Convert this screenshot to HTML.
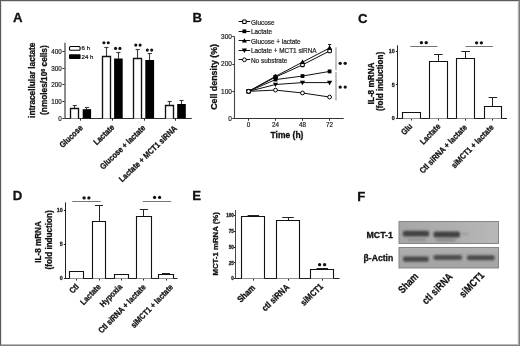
<!DOCTYPE html>
<html><head><meta charset="utf-8"><style>
html,body{margin:0;padding:0;background:#fff;}
svg{display:block;will-change:transform;opacity:0.999;}
svg text{font-family:"Liberation Sans", sans-serif;}
</style></head><body>
<svg width="520" height="346" viewBox="0 0 520 346">
<rect x="0" y="0" width="520" height="346" fill="#fff"/>
<text x="13.0" y="22.3" font-size="13.2" font-weight="bold" text-anchor="start" fill="#111" stroke="#111" stroke-width="0.3">A</text>
<text x="192.5" y="22.4" font-size="13.2" font-weight="bold" text-anchor="start" fill="#111" stroke="#111" stroke-width="0.3">B</text>
<text x="358.0" y="22.9" font-size="13.2" font-weight="bold" text-anchor="start" fill="#111" stroke="#111" stroke-width="0.3">C</text>
<text x="12.8" y="199.8" font-size="13.2" font-weight="bold" text-anchor="start" fill="#111" stroke="#111" stroke-width="0.3">D</text>
<text x="192.2" y="200.4" font-size="13.2" font-weight="bold" text-anchor="start" fill="#111" stroke="#111" stroke-width="0.3">E</text>
<text x="357.2" y="200.5" font-size="13.2" font-weight="bold" text-anchor="start" fill="#111" stroke="#111" stroke-width="0.3">F</text>
<line x1="65.0" y1="42.7" x2="65.0" y2="118.4" stroke="#666" stroke-width="1.5"/>
<line x1="64.6" y1="118.5" x2="191.8" y2="118.5" stroke="#333" stroke-width="1"/>
<line x1="62.39999999999999" y1="118.5" x2="64.6" y2="118.5" stroke="#333" stroke-width="1"/>
<text x="61.8" y="120.7" font-size="6.3" font-weight="normal" text-anchor="end" fill="#222" stroke="#222" stroke-width="0.2">0</text>
<line x1="62.39999999999999" y1="101.5" x2="64.6" y2="101.5" stroke="#333" stroke-width="1"/>
<text x="61.8" y="103.98" font-size="6.3" font-weight="normal" text-anchor="end" fill="#222" stroke="#222" stroke-width="0.2">100</text>
<line x1="62.39999999999999" y1="84.5" x2="64.6" y2="84.5" stroke="#333" stroke-width="1"/>
<text x="61.8" y="87.26" font-size="6.3" font-weight="normal" text-anchor="end" fill="#222" stroke="#222" stroke-width="0.2">200</text>
<line x1="62.39999999999999" y1="68.5" x2="64.6" y2="68.5" stroke="#333" stroke-width="1"/>
<text x="61.8" y="70.54" font-size="6.3" font-weight="normal" text-anchor="end" fill="#222" stroke="#222" stroke-width="0.2">300</text>
<line x1="62.39999999999999" y1="51.5" x2="64.6" y2="51.5" stroke="#333" stroke-width="1"/>
<text x="61.8" y="53.82000000000001" font-size="6.3" font-weight="normal" text-anchor="end" fill="#222" stroke="#222" stroke-width="0.2">400</text>
<line x1="80.5" y1="118.4" x2="80.5" y2="120.7" stroke="#333" stroke-width="1"/>
<line x1="112.5" y1="118.4" x2="112.5" y2="120.7" stroke="#333" stroke-width="1"/>
<line x1="144.5" y1="118.4" x2="144.5" y2="120.7" stroke="#333" stroke-width="1"/>
<line x1="175.5" y1="118.4" x2="175.5" y2="120.7" stroke="#333" stroke-width="1"/>
<line x1="74.5" y1="108.3" x2="74.5" y2="105.5" stroke="#3a3a3a" stroke-width="1.1"/>
<line x1="72.70000000000002" y1="105.5" x2="76.9" y2="105.5" stroke="#3a3a3a" stroke-width="1.1"/>
<path d="M70.5 118.5 V108.5 H78.5 V118.5" fill="#fff" stroke="#111" stroke-width="1.35"/>
<line x1="86.5" y1="109.2" x2="86.5" y2="107.6" stroke="#3a3a3a" stroke-width="1.1"/>
<line x1="84.80000000000001" y1="107.5" x2="89.0" y2="107.5" stroke="#3a3a3a" stroke-width="1.1"/>
<rect x="82.7" y="109.2" width="8.399999999999991" height="9.200000000000003" fill="#000" stroke="none" stroke-width="1"/>
<line x1="106.5" y1="56.4" x2="106.5" y2="47.3" stroke="#3a3a3a" stroke-width="1.1"/>
<line x1="104.30000000000001" y1="47.5" x2="108.5" y2="47.5" stroke="#3a3a3a" stroke-width="1.1"/>
<path d="M102.5 118.5 V56.5 H110.5 V118.5" fill="#fff" stroke="#111" stroke-width="1.35"/>
<line x1="118.5" y1="58.5" x2="118.5" y2="52.0" stroke="#3a3a3a" stroke-width="1.1"/>
<line x1="116.30000000000001" y1="52.5" x2="120.5" y2="52.5" stroke="#3a3a3a" stroke-width="1.1"/>
<rect x="114.1" y="58.5" width="8.600000000000009" height="59.900000000000006" fill="#000" stroke="none" stroke-width="1"/>
<line x1="137.5" y1="58.1" x2="137.5" y2="49.0" stroke="#3a3a3a" stroke-width="1.1"/>
<line x1="135.6" y1="49.5" x2="139.79999999999998" y2="49.5" stroke="#3a3a3a" stroke-width="1.1"/>
<path d="M133.5 118.5 V58.5 H141.5 V118.5" fill="#fff" stroke="#111" stroke-width="1.35"/>
<line x1="149.5" y1="60.0" x2="149.5" y2="53.8" stroke="#3a3a3a" stroke-width="1.1"/>
<line x1="147.6" y1="53.5" x2="151.79999999999998" y2="53.5" stroke="#3a3a3a" stroke-width="1.1"/>
<rect x="145.3" y="60.0" width="8.799999999999983" height="58.400000000000006" fill="#000" stroke="none" stroke-width="1"/>
<line x1="169.5" y1="105.3" x2="169.5" y2="101.7" stroke="#3a3a3a" stroke-width="1.1"/>
<line x1="167.55" y1="101.5" x2="171.75" y2="101.5" stroke="#3a3a3a" stroke-width="1.1"/>
<path d="M165.5 118.5 V105.5 H173.5 V118.5" fill="#fff" stroke="#111" stroke-width="1.35"/>
<line x1="181.5" y1="104.0" x2="181.5" y2="100.5" stroke="#3a3a3a" stroke-width="1.1"/>
<line x1="179.4" y1="100.5" x2="183.6" y2="100.5" stroke="#3a3a3a" stroke-width="1.1"/>
<rect x="177.2" y="104.0" width="8.600000000000023" height="14.400000000000006" fill="#000" stroke="none" stroke-width="1"/>
<circle cx="103.92" cy="42.80" r="1.55" fill="#111"/>
<circle cx="108.27" cy="42.80" r="1.55" fill="#111"/>
<circle cx="115.58" cy="48.40" r="1.55" fill="#111"/>
<circle cx="119.92" cy="48.40" r="1.55" fill="#111"/>
<circle cx="135.77" cy="45.10" r="1.55" fill="#111"/>
<circle cx="140.12" cy="45.10" r="1.55" fill="#111"/>
<circle cx="147.32" cy="50.10" r="1.55" fill="#111"/>
<circle cx="151.68" cy="50.10" r="1.55" fill="#111"/>
<rect x="69.5" y="46.5" width="10.6" height="3.8" rx="1" fill="#fff" stroke="#000" stroke-width="1.1"/>
<rect x="69" y="54.3" width="11.6" height="4.8" rx="0.8" fill="#000"/>
<text x="81.6" y="50.3" font-size="6.1" font-weight="normal" text-anchor="start" fill="#111" stroke="#111" stroke-width="0.2">6 h</text>
<text x="81.6" y="58.9" font-size="6.1" font-weight="normal" text-anchor="start" fill="#111" stroke="#111" stroke-width="0.2">24 h</text>
<text x="34.7" y="80.25" font-size="8.27" font-weight="bold" text-anchor="middle" fill="#111" stroke="#111" stroke-width="0.3" transform="rotate(-90 34.7 80.25)">intracellular lactate</text>
<text x="47.3" y="80.1" font-size="8.27" font-weight="bold" text-anchor="middle" fill="#111" stroke="#111" stroke-width="0.3" transform="rotate(-90 47.3 80.1)">(nmoles/10<tspan font-size="5.3" dy="-2.7">6</tspan><tspan dy="2.7"> cells)</tspan></text>
<text x="0" y="0" font-size="8.4" font-weight="bold" text-anchor="end" fill="#111" stroke="#111" stroke-width="0.3" transform="translate(83.3 128.5) rotate(-44) scale(0.86 1)">Glucose</text>
<text x="0" y="0" font-size="8.4" font-weight="bold" text-anchor="end" fill="#111" stroke="#111" stroke-width="0.3" transform="translate(114.9 128.0) rotate(-44) scale(0.86 1)">Lactate</text>
<text x="0" y="0" font-size="8.4" font-weight="bold" text-anchor="end" fill="#111" stroke="#111" stroke-width="0.3" transform="translate(146.0 128.5) rotate(-44) scale(0.86 1)">Glucose + lactate</text>
<text x="0" y="0" font-size="8.4" font-weight="bold" text-anchor="end" fill="#111" stroke="#111" stroke-width="0.3" transform="translate(177.6 129.1) rotate(-44) scale(0.86 1)">Lactate + MCT1 siRNA</text>
<line x1="234.5" y1="36.7" x2="234.5" y2="118.6" stroke="#444" stroke-width="1.1"/>
<line x1="234.7" y1="118.5" x2="343.7" y2="118.5" stroke="#333" stroke-width="1"/>
<line x1="232.29999999999998" y1="118.5" x2="234.7" y2="118.5" stroke="#333" stroke-width="1"/>
<text x="231.9" y="121.0" font-size="6.5" font-weight="normal" text-anchor="end" fill="#222" stroke="#222" stroke-width="0.2">0</text>
<line x1="232.29999999999998" y1="91.5" x2="234.7" y2="91.5" stroke="#333" stroke-width="1"/>
<text x="231.9" y="93.73" font-size="6.5" font-weight="normal" text-anchor="end" fill="#222" stroke="#222" stroke-width="0.2">100</text>
<line x1="232.29999999999998" y1="64.5" x2="234.7" y2="64.5" stroke="#333" stroke-width="1"/>
<text x="231.9" y="66.46000000000001" font-size="6.5" font-weight="normal" text-anchor="end" fill="#222" stroke="#222" stroke-width="0.2">200</text>
<line x1="232.29999999999998" y1="36.5" x2="234.7" y2="36.5" stroke="#333" stroke-width="1"/>
<text x="231.9" y="39.18999999999999" font-size="6.5" font-weight="normal" text-anchor="end" fill="#222" stroke="#222" stroke-width="0.2">300</text>
<line x1="248.5" y1="118.6" x2="248.5" y2="120.8" stroke="#333" stroke-width="1"/>
<text x="248.6" y="126.8" font-size="6.3" font-weight="normal" text-anchor="middle" fill="#222" stroke="#222" stroke-width="0.2">0</text>
<line x1="275.5" y1="118.6" x2="275.5" y2="120.8" stroke="#333" stroke-width="1"/>
<text x="275.5" y="126.8" font-size="6.3" font-weight="normal" text-anchor="middle" fill="#222" stroke="#222" stroke-width="0.2">24</text>
<line x1="302.5" y1="118.6" x2="302.5" y2="120.8" stroke="#333" stroke-width="1"/>
<text x="302.5" y="126.8" font-size="6.3" font-weight="normal" text-anchor="middle" fill="#222" stroke="#222" stroke-width="0.2">48</text>
<line x1="329.5" y1="118.6" x2="329.5" y2="120.8" stroke="#333" stroke-width="1"/>
<text x="329.6" y="126.8" font-size="6.3" font-weight="normal" text-anchor="middle" fill="#222" stroke="#222" stroke-width="0.2">72</text>
<text x="287.0" y="138.4" font-size="8.5" font-weight="bold" text-anchor="middle" fill="#111" stroke="#111" stroke-width="0.3">Time (h)</text>
<text x="216.6" y="76.9" font-size="8.85" font-weight="bold" text-anchor="middle" fill="#111" stroke="#111" stroke-width="0.3" transform="rotate(-90 216.6 76.9)">Cell density (%)</text>
<polyline points="248.6,91.33 275.5,77.15 302.5,64.88 329.6,50.97" fill="none" stroke="#111" stroke-width="1"/>
<polyline points="248.6,91.33 275.5,79.60 302.5,76.06 329.6,71.42" fill="none" stroke="#111" stroke-width="1"/>
<polyline points="248.6,91.33 275.5,76.33 302.5,62.15 329.6,47.97" fill="none" stroke="#111" stroke-width="1"/>
<polyline points="248.6,91.33 275.5,84.51 302.5,82.60 329.6,82.60" fill="none" stroke="#111" stroke-width="1"/>
<polyline points="248.6,91.33 275.5,90.10 302.5,92.97 329.6,97.06" fill="none" stroke="#111" stroke-width="1"/>
<line x1="329.5" y1="47.970699999999994" x2="329.5" y2="44.5" stroke="#222" stroke-width="1"/>
<line x1="328.0" y1="44.5" x2="331.20000000000005" y2="44.5" stroke="#222" stroke-width="1"/>
<rect x="246.85" y="89.58" width="3.5" height="3.5" rx="0.6" fill="#fff" stroke="#000" stroke-width="1.05"/>
<rect x="273.75" y="75.39959999999999" width="3.5" height="3.5" rx="0.6" fill="#fff" stroke="#000" stroke-width="1.05"/>
<rect x="300.75" y="63.12809999999999" width="3.5" height="3.5" rx="0.6" fill="#fff" stroke="#000" stroke-width="1.05"/>
<rect x="327.85" y="49.2204" width="3.5" height="3.5" rx="0.6" fill="#fff" stroke="#000" stroke-width="1.05"/>
<rect x="246.7" y="89.42999999999999" width="3.8" height="3.8" fill="#000"/>
<rect x="273.6" y="77.70389999999999" width="3.8" height="3.8" fill="#000"/>
<rect x="300.6" y="74.15879999999999" width="3.8" height="3.8" fill="#000"/>
<rect x="327.70000000000005" y="69.52289999999999" width="3.8" height="3.8" fill="#000"/>
<path d="M248.6 88.73 L251.2 93.13 L246.0 93.13Z" fill="#000"/>
<path d="M275.5 73.7315 L278.1 78.13149999999999 L272.9 78.13149999999999Z" fill="#000"/>
<path d="M302.5 59.55109999999999 L305.1 63.95109999999999 L299.9 63.95109999999999Z" fill="#000"/>
<path d="M329.6 45.37069999999999 L332.20000000000005 49.77069999999999 L327.0 49.77069999999999Z" fill="#000"/>
<path d="M248.6 93.92999999999999 L251.2 89.53 L246.0 89.53Z" fill="#000"/>
<path d="M275.5 87.11249999999998 L278.1 82.71249999999999 L272.9 82.71249999999999Z" fill="#000"/>
<path d="M302.5 85.2036 L305.1 80.8036 L299.9 80.8036Z" fill="#000"/>
<path d="M329.6 85.2036 L332.20000000000005 80.8036 L327.0 80.8036Z" fill="#000"/>
<circle cx="248.6" cy="91.33" r="1.9" fill="#fff" stroke="#000" stroke-width="1"/>
<circle cx="275.5" cy="90.10284999999999" r="1.9" fill="#fff" stroke="#000" stroke-width="1"/>
<circle cx="302.5" cy="92.96619999999999" r="1.9" fill="#fff" stroke="#000" stroke-width="1"/>
<circle cx="329.6" cy="97.05669999999999" r="1.9" fill="#fff" stroke="#000" stroke-width="1"/>
<line x1="238.6" y1="21.5" x2="250.2" y2="21.5" stroke="#111" stroke-width="1"/>
<rect x="242.65" y="20.05" width="3.5" height="3.5" rx="0.6" fill="#fff" stroke="#000" stroke-width="1.05"/>
<text x="251.0" y="24.6" font-size="6.4" font-weight="normal" text-anchor="start" fill="#222" stroke="#222" stroke-width="0.2">Glucose</text>
<line x1="238.6" y1="31.5" x2="250.2" y2="31.5" stroke="#111" stroke-width="1"/>
<rect x="242.5" y="29.400000000000002" width="3.8" height="3.8" fill="#000"/>
<text x="251.0" y="34.1" font-size="6.4" font-weight="normal" text-anchor="start" fill="#222" stroke="#222" stroke-width="0.2">Lactate</text>
<line x1="238.6" y1="40.5" x2="250.2" y2="40.5" stroke="#111" stroke-width="1"/>
<path d="M244.4 38.199999999999996 L247.0 42.599999999999994 L241.8 42.599999999999994Z" fill="#000"/>
<text x="251.0" y="43.599999999999994" font-size="6.4" font-weight="normal" text-anchor="start" fill="#222" stroke="#222" stroke-width="0.2">Glucose + lactate</text>
<line x1="238.6" y1="50.5" x2="250.2" y2="50.5" stroke="#111" stroke-width="1"/>
<path d="M244.4 52.9 L247.0 48.5 L241.8 48.5Z" fill="#000"/>
<text x="251.0" y="53.099999999999994" font-size="6.4" font-weight="normal" text-anchor="start" fill="#222" stroke="#222" stroke-width="0.2">Lactate + MCT1 siRNA</text>
<line x1="238.6" y1="59.5" x2="250.2" y2="59.5" stroke="#111" stroke-width="1"/>
<circle cx="244.4" cy="59.8" r="1.9" fill="#fff" stroke="#000" stroke-width="1"/>
<text x="251.0" y="62.599999999999994" font-size="6.4" font-weight="normal" text-anchor="start" fill="#222" stroke="#222" stroke-width="0.2">No substrate</text>
<line x1="336.0" y1="47.2" x2="336.0" y2="70.2" stroke="#9a9a9a" stroke-width="1.2"/>
<line x1="336.0" y1="71.9" x2="336.0" y2="100.4" stroke="#9a9a9a" stroke-width="1.2"/>
<circle cx="340.20" cy="63.30" r="1.65" fill="#111"/>
<circle cx="345.20" cy="63.30" r="1.65" fill="#111"/>
<circle cx="340.20" cy="87.10" r="1.65" fill="#111"/>
<circle cx="345.20" cy="87.10" r="1.65" fill="#111"/>
<line x1="397.5" y1="45.3" x2="397.5" y2="118.5" stroke="#222" stroke-width="1"/>
<line x1="397.5" y1="118.5" x2="507" y2="118.5" stroke="#222" stroke-width="1"/>
<line x1="395.9" y1="118.5" x2="397.5" y2="118.5" stroke="#222" stroke-width="1"/>
<text x="394.7" y="120.4" font-size="5.3" font-weight="bold" text-anchor="end" fill="#222" stroke="#222" stroke-width="0.3">0</text>
<line x1="395.9" y1="84.5" x2="397.5" y2="84.5" stroke="#222" stroke-width="1"/>
<text x="394.7" y="86.80000000000001" font-size="5.3" font-weight="bold" text-anchor="end" fill="#222" stroke="#222" stroke-width="0.3">5</text>
<line x1="395.9" y1="51.5" x2="397.5" y2="51.5" stroke="#222" stroke-width="1"/>
<text x="394.7" y="53.199999999999996" font-size="5.3" font-weight="bold" text-anchor="end" fill="#222" stroke="#222" stroke-width="0.3">10</text>
<line x1="411.5" y1="118.5" x2="411.5" y2="120.5" stroke="#222" stroke-width="1"/>
<line x1="438.5" y1="118.5" x2="438.5" y2="120.5" stroke="#222" stroke-width="1"/>
<line x1="465.5" y1="118.5" x2="465.5" y2="120.5" stroke="#222" stroke-width="1"/>
<line x1="492.5" y1="118.5" x2="492.5" y2="120.5" stroke="#222" stroke-width="1"/>
<path d="M402.5 118.5 V112.5 H420.5 V118.5" fill="#fff" stroke="#111" stroke-width="1.1"/>
<line x1="438.5" y1="61.0" x2="438.5" y2="54.4" stroke="#222" stroke-width="1"/>
<line x1="434.09999999999997" y1="54.5" x2="442.7" y2="54.5" stroke="#222" stroke-width="1"/>
<path d="M429.5 118.5 V61.5 H447.5 V118.5" fill="#fff" stroke="#111" stroke-width="1.1"/>
<line x1="465.5" y1="58.4" x2="465.5" y2="51.8" stroke="#222" stroke-width="1"/>
<line x1="461.3" y1="51.5" x2="469.90000000000003" y2="51.5" stroke="#222" stroke-width="1"/>
<path d="M456.5 118.5 V58.5 H474.5 V118.5" fill="#fff" stroke="#111" stroke-width="1.1"/>
<line x1="492.5" y1="106.5" x2="492.5" y2="97.4" stroke="#222" stroke-width="1"/>
<line x1="488.59999999999997" y1="97.5" x2="497.2" y2="97.5" stroke="#222" stroke-width="1"/>
<path d="M484.5 118.5 V106.5 H501.5 V118.5" fill="#fff" stroke="#111" stroke-width="1.1"/>
<line x1="410.3" y1="46.5" x2="437.5" y2="46.5" stroke="#777" stroke-width="1"/>
<line x1="465.6" y1="46.5" x2="492.9" y2="46.5" stroke="#777" stroke-width="1"/>
<circle cx="421.40" cy="42.70" r="1.65" fill="#111"/>
<circle cx="426.20" cy="42.70" r="1.65" fill="#111"/>
<circle cx="476.60" cy="42.80" r="1.65" fill="#111"/>
<circle cx="481.40" cy="42.80" r="1.65" fill="#111"/>
<text x="373.6" y="83.45" font-size="8.2" font-weight="bold" text-anchor="middle" fill="#111" stroke="#111" stroke-width="0.3" transform="rotate(-90 373.6 83.45)">IL-8 mRNA</text>
<text x="382.6" y="81.4" font-size="8.15" font-weight="bold" text-anchor="middle" fill="#111" stroke="#111" stroke-width="0.3" transform="rotate(-90 382.6 81.4)">(fold induction)</text>
<text x="0" y="0" font-size="8.4" font-weight="bold" text-anchor="end" fill="#111" stroke="#111" stroke-width="0.3" transform="translate(412.9 126.9) rotate(-46) scale(0.86 1)">Glu</text>
<text x="0" y="0" font-size="8.4" font-weight="bold" text-anchor="end" fill="#111" stroke="#111" stroke-width="0.3" transform="translate(441.0 126.9) rotate(-46) scale(0.86 1)">Lactate</text>
<text x="0" y="0" font-size="8.4" font-weight="bold" text-anchor="end" fill="#111" stroke="#111" stroke-width="0.3" transform="translate(467.5 127.9) rotate(-46) scale(0.86 1)">Ctl siRNA + lactate</text>
<text x="0" y="0" font-size="8.4" font-weight="bold" text-anchor="end" fill="#111" stroke="#111" stroke-width="0.3" transform="translate(494.2 127.9) rotate(-46) scale(0.86 1)">siMCT1 + lactate</text>
<line x1="65.5" y1="202.4" x2="65.5" y2="278.5" stroke="#222" stroke-width="1"/>
<line x1="65.5" y1="278.5" x2="177.4" y2="278.5" stroke="#222" stroke-width="1"/>
<line x1="63.9" y1="278.5" x2="65.5" y2="278.5" stroke="#222" stroke-width="1"/>
<text x="62.6" y="280.4" font-size="5.3" font-weight="bold" text-anchor="end" fill="#222" stroke="#222" stroke-width="0.3">0</text>
<line x1="63.9" y1="244.5" x2="65.5" y2="244.5" stroke="#222" stroke-width="1"/>
<text x="62.6" y="246.25" font-size="5.3" font-weight="bold" text-anchor="end" fill="#222" stroke="#222" stroke-width="0.3">5</text>
<line x1="63.9" y1="210.5" x2="65.5" y2="210.5" stroke="#222" stroke-width="1"/>
<text x="62.6" y="212.1" font-size="5.3" font-weight="bold" text-anchor="end" fill="#222" stroke="#222" stroke-width="0.3">10</text>
<line x1="76.5" y1="278.5" x2="76.5" y2="280.5" stroke="#222" stroke-width="1"/>
<line x1="99.5" y1="278.5" x2="99.5" y2="280.5" stroke="#222" stroke-width="1"/>
<line x1="121.5" y1="278.5" x2="121.5" y2="280.5" stroke="#222" stroke-width="1"/>
<line x1="143.5" y1="278.5" x2="143.5" y2="280.5" stroke="#222" stroke-width="1"/>
<line x1="166.5" y1="278.5" x2="166.5" y2="280.5" stroke="#222" stroke-width="1"/>
<path d="M69.5 278.5 V271.5 H83.5 V278.5" fill="#fff" stroke="#111" stroke-width="1.1"/>
<line x1="99.5" y1="221.4" x2="99.5" y2="205.4" stroke="#222" stroke-width="1"/>
<line x1="95.0" y1="205.5" x2="103.0" y2="205.5" stroke="#222" stroke-width="1"/>
<path d="M92.5 278.5 V221.5 H105.5 V278.5" fill="#fff" stroke="#111" stroke-width="1.1"/>
<path d="M114.5 278.5 V274.5 H128.5 V278.5" fill="#fff" stroke="#111" stroke-width="1.1"/>
<line x1="143.5" y1="216.4" x2="143.5" y2="209.9" stroke="#222" stroke-width="1"/>
<line x1="139.9" y1="209.5" x2="147.9" y2="209.5" stroke="#222" stroke-width="1"/>
<path d="M136.5 278.5 V216.5 H151.5 V278.5" fill="#fff" stroke="#111" stroke-width="1.1"/>
<line x1="166.5" y1="274.3" x2="166.5" y2="273.7" stroke="#222" stroke-width="1"/>
<line x1="162.0" y1="273.5" x2="170.0" y2="273.5" stroke="#222" stroke-width="1"/>
<path d="M158.5 278.5 V274.5 H173.5 V278.5" fill="#fff" stroke="#111" stroke-width="1.1"/>
<line x1="72.3" y1="201.5" x2="100.5" y2="201.5" stroke="#777" stroke-width="1"/>
<line x1="142.7" y1="201.5" x2="171.2" y2="201.5" stroke="#777" stroke-width="1"/>
<circle cx="84.10" cy="197.90" r="1.65" fill="#111"/>
<circle cx="88.90" cy="197.90" r="1.65" fill="#111"/>
<circle cx="154.60" cy="197.45" r="1.65" fill="#111"/>
<circle cx="159.60" cy="197.45" r="1.65" fill="#111"/>
<text x="41.4" y="242.0" font-size="8.15" font-weight="bold" text-anchor="middle" fill="#111" stroke="#111" stroke-width="0.3" transform="rotate(-90 41.4 242.0)">IL-8 mRNA</text>
<text x="52.0" y="239.9" font-size="8.15" font-weight="bold" text-anchor="middle" fill="#111" stroke="#111" stroke-width="0.3" transform="rotate(-90 52.0 239.9)">(fold induction)</text>
<text x="0" y="0" font-size="8.4" font-weight="bold" text-anchor="end" fill="#111" stroke="#111" stroke-width="0.3" transform="translate(79.4 287.1) rotate(-46) scale(0.86 1)">Ctl</text>
<text x="0" y="0" font-size="8.4" font-weight="bold" text-anchor="end" fill="#111" stroke="#111" stroke-width="0.3" transform="translate(101.3 287.3) rotate(-46) scale(0.86 1)">Lactate</text>
<text x="0" y="0" font-size="8.4" font-weight="bold" text-anchor="end" fill="#111" stroke="#111" stroke-width="0.3" transform="translate(122.8 287.3) rotate(-46) scale(0.86 1)">Hypoxia</text>
<text x="0" y="0" font-size="8.4" font-weight="bold" text-anchor="end" fill="#111" stroke="#111" stroke-width="0.3" transform="translate(146.2 287.7) rotate(-46) scale(0.86 1)">Ctl siRNA + lactate</text>
<text x="0" y="0" font-size="8.4" font-weight="bold" text-anchor="end" fill="#111" stroke="#111" stroke-width="0.3" transform="translate(173.6 287.7) rotate(-46) scale(0.86 1)">siMCT1 + lactate</text>
<line x1="235.5" y1="210.0" x2="235.5" y2="278.6" stroke="#4a4a4a" stroke-width="1"/>
<line x1="235.4" y1="278.5" x2="339.5" y2="278.5" stroke="#222" stroke-width="1"/>
<line x1="233.9" y1="278.5" x2="235.4" y2="278.5" stroke="#222" stroke-width="1"/>
<text x="233.9" y="280.3" font-size="4.6" font-weight="bold" text-anchor="end" fill="#222" stroke="#222" stroke-width="0.3">0</text>
<line x1="233.9" y1="262.5" x2="235.4" y2="262.5" stroke="#222" stroke-width="1"/>
<text x="233.9" y="264.5" font-size="4.6" font-weight="bold" text-anchor="end" fill="#222" stroke="#222" stroke-width="0.3">25</text>
<line x1="233.9" y1="247.5" x2="235.4" y2="247.5" stroke="#222" stroke-width="1"/>
<text x="233.9" y="248.70000000000002" font-size="4.6" font-weight="bold" text-anchor="end" fill="#222" stroke="#222" stroke-width="0.3">50</text>
<line x1="233.9" y1="231.5" x2="235.4" y2="231.5" stroke="#222" stroke-width="1"/>
<text x="233.9" y="232.9" font-size="4.6" font-weight="bold" text-anchor="end" fill="#222" stroke="#222" stroke-width="0.3">75</text>
<line x1="233.9" y1="215.5" x2="235.4" y2="215.5" stroke="#222" stroke-width="1"/>
<text x="233.9" y="217.10000000000002" font-size="4.6" font-weight="bold" text-anchor="end" fill="#222" stroke="#222" stroke-width="0.3">100</text>
<line x1="253.5" y1="278.6" x2="253.5" y2="280.6" stroke="#222" stroke-width="1"/>
<line x1="288.5" y1="278.6" x2="288.5" y2="280.6" stroke="#222" stroke-width="1"/>
<line x1="322.5" y1="278.6" x2="322.5" y2="280.6" stroke="#222" stroke-width="1"/>
<line x1="253.5" y1="216.0" x2="253.5" y2="215.4" stroke="#222" stroke-width="1"/>
<line x1="247.60000000000002" y1="215.5" x2="259.1" y2="215.5" stroke="#222" stroke-width="1"/>
<path d="M241.5 278.5 V216.5 H264.5 V278.5" fill="#fff" stroke="#111" stroke-width="1.1"/>
<line x1="288.5" y1="220.5" x2="288.5" y2="217.3" stroke="#222" stroke-width="1"/>
<line x1="282.25" y1="217.5" x2="293.75" y2="217.5" stroke="#222" stroke-width="1"/>
<path d="M276.5 278.5 V220.5 H299.5 V278.5" fill="#fff" stroke="#111" stroke-width="1.1"/>
<line x1="322.5" y1="268.8" x2="322.5" y2="268.1" stroke="#222" stroke-width="1"/>
<line x1="316.5" y1="268.5" x2="328.0" y2="268.5" stroke="#222" stroke-width="1"/>
<path d="M310.5 278.5 V269.5 H333.5 V278.5" fill="#fff" stroke="#111" stroke-width="1.1"/>
<circle cx="319.60" cy="264.70" r="1.65" fill="#111"/>
<circle cx="324.60" cy="264.70" r="1.65" fill="#111"/>
<text x="217.9" y="243.9" font-size="7.8" font-weight="bold" text-anchor="middle" fill="#111" stroke="#111" stroke-width="0.3" transform="rotate(-90 217.9 243.9)">MCT-1 mRNA (%)</text>
<text x="0" y="0" font-size="9.0" font-weight="bold" text-anchor="end" fill="#111" stroke="#111" stroke-width="0.3" transform="translate(255.8 288.5) rotate(-44) scale(0.86 1)">Sham</text>
<text x="0" y="0" font-size="9.0" font-weight="bold" text-anchor="end" fill="#111" stroke="#111" stroke-width="0.3" transform="translate(289.9 287.9) rotate(-44) scale(0.86 1)">ctl siRNA</text>
<text x="0" y="0" font-size="9.0" font-weight="bold" text-anchor="end" fill="#111" stroke="#111" stroke-width="0.3" transform="translate(323.7 287.2) rotate(-44) scale(0.86 1)">siMCT1</text>
<defs>
<filter id="bl" x="-20%" y="-80%" width="140%" height="260%"><feGaussianBlur stdDeviation="1.1 1.0"/></filter>
<linearGradient id="bg1" x1="0" y1="0" x2="1" y2="0"><stop offset="0" stop-color="#a6a6a6"/><stop offset="0.55" stop-color="#afafaf"/><stop offset="1" stop-color="#b8b8b8"/></linearGradient>
<linearGradient id="bg2" x1="0" y1="0" x2="0" y2="1"><stop offset="0" stop-color="#b0b0b0"/><stop offset="0.4" stop-color="#a8a8a8"/><stop offset="1" stop-color="#a3a3a3"/></linearGradient>
<clipPath id="cb1"><rect x="399.5" y="222" width="98.5" height="21"/></clipPath>
<clipPath id="cb2"><rect x="399.5" y="248" width="98.5" height="19.5"/></clipPath>
</defs>
<rect x="399" y="221.5" width="99.5" height="22" fill="url(#bg1)" stroke="#858585" stroke-width="1"/>
<rect x="399" y="247.5" width="99.5" height="20.5" fill="url(#bg2)" stroke="#858585" stroke-width="1"/>
<g filter="url(#bl)" clip-path="url(#cb1)">
<rect x="402.8" y="230.8" width="26.4" height="5.6" rx="2" fill="#434343"/>
<rect x="433.5" y="231.6" width="26.6" height="6.0" rx="2" fill="#434343"/>
<rect x="408" y="238.4" width="18" height="2.6" rx="1.3" fill="#8e8e8e"/>
<rect x="436" y="238.8" width="20" height="2.6" rx="1.3" fill="#8a8a8a"/>
<rect x="461" y="232.5" width="8" height="3" rx="1.5" fill="#a0a0a0"/>
</g>
<g filter="url(#bl)" clip-path="url(#cb2)">
<rect x="403.0" y="256.5" width="25.8" height="5.2" rx="2" fill="#4a4a4a"/>
<rect x="433.5" y="255.0" width="28.6" height="5.0" rx="2" fill="#505050"/>
<rect x="467" y="255.3" width="27.6" height="5.0" rx="2" fill="#4c4c4c"/>
</g>
<text x="366.5" y="238.2" font-size="8.8" font-weight="bold" text-anchor="start" fill="#111" stroke="#111" stroke-width="0.3">MCT-1</text>
<text x="363.6" y="261.2" font-size="8.6" font-weight="bold" text-anchor="start" fill="#111" stroke="#111" stroke-width="0.3">β-Actin</text>
<text x="0" y="0" font-size="10.4" font-weight="bold" text-anchor="end" fill="#111" stroke="#111" stroke-width="0.3" transform="translate(418.9 276.9) rotate(-46) scale(0.84 1)">Sham</text>
<text x="0" y="0" font-size="10.4" font-weight="bold" text-anchor="end" fill="#111" stroke="#111" stroke-width="0.3" transform="translate(453.2 277.1) rotate(-46) scale(0.84 1)">ctl siRNA</text>
<text x="0" y="0" font-size="10.4" font-weight="bold" text-anchor="end" fill="#111" stroke="#111" stroke-width="0.3" transform="translate(485.0 275.9) rotate(-46) scale(0.84 1)">siMCT1</text>
<rect x="0" y="0" width="520" height="1" fill="#5a5a5a"/>
<rect x="0" y="1" width="520" height="1" fill="#dcdcdc"/>
<rect x="0" y="0" width="1" height="346" fill="#5a5a5a"/>
<rect x="1" y="1" width="1" height="345" fill="#e4e4e4"/>
<rect x="517" y="1" width="1" height="345" fill="#eeeeee"/>
<rect x="518" y="1" width="1" height="345" fill="#b4b4b4"/>
<rect x="519" y="0" width="1" height="346" fill="#7a7a7a"/>
<rect x="1" y="344" width="518" height="1" fill="#b8b8b8"/>
<rect x="0" y="345" width="520" height="1" fill="#808080"/>
</svg>
</body></html>
